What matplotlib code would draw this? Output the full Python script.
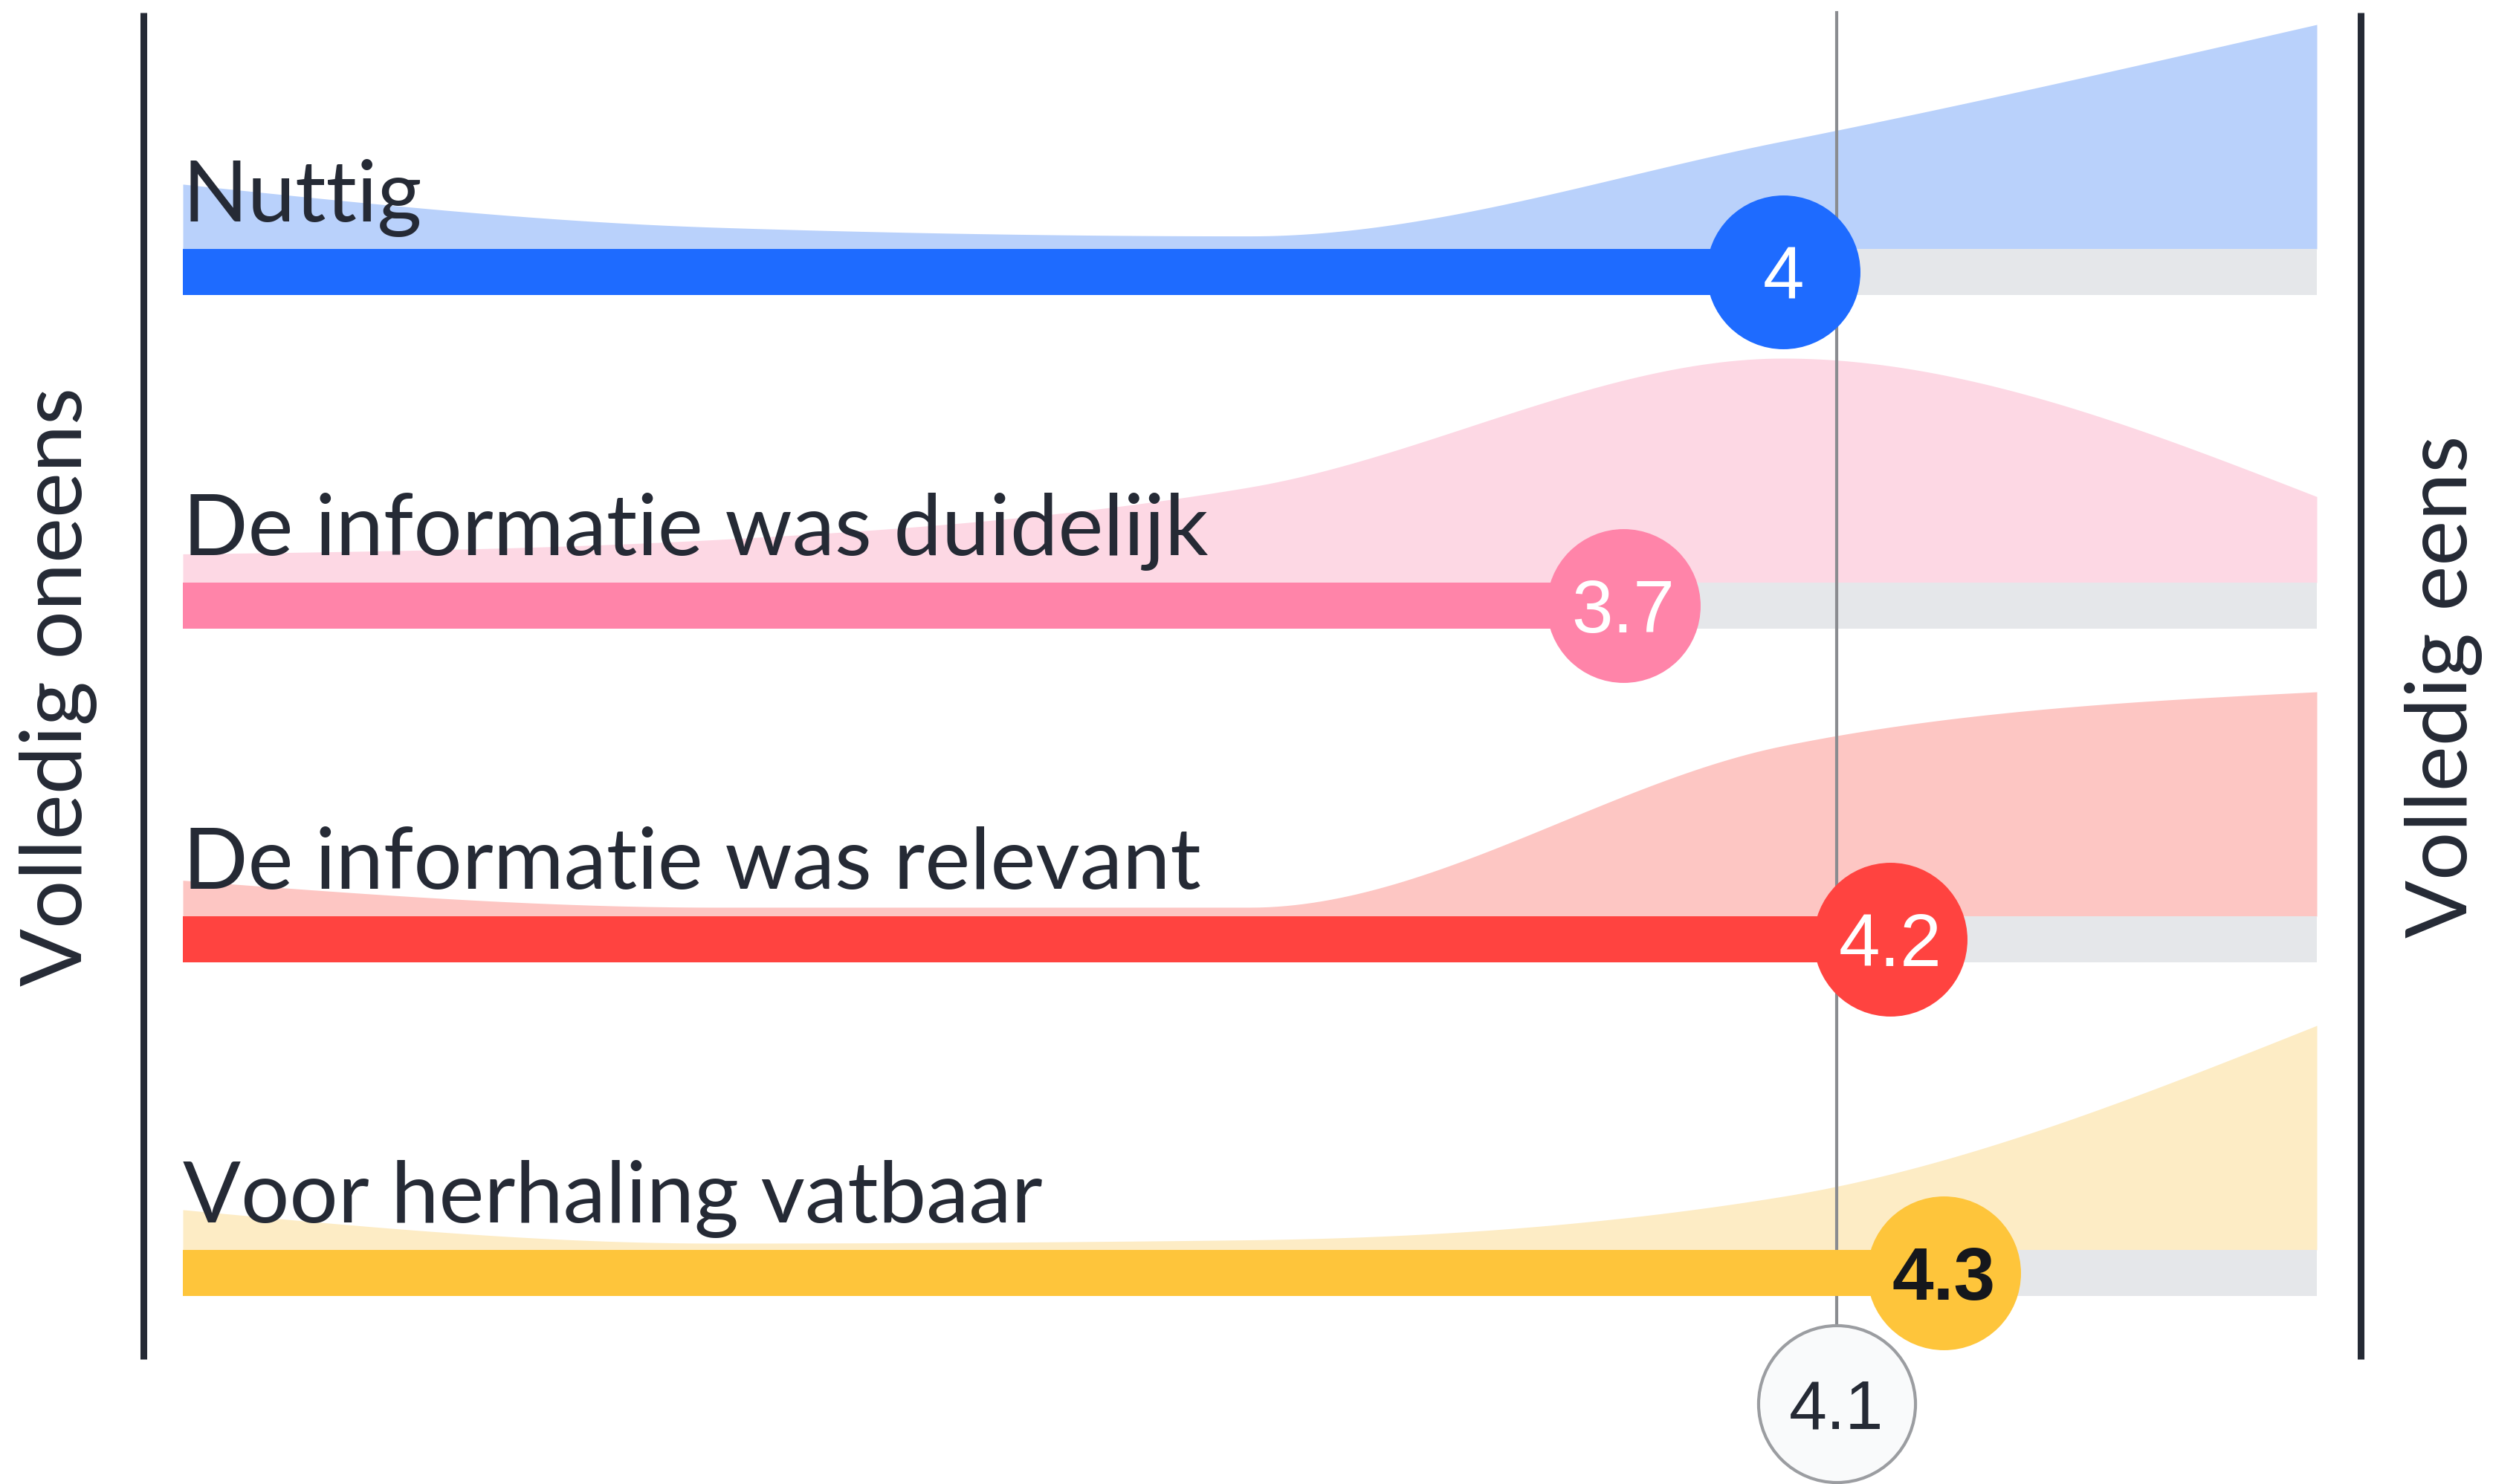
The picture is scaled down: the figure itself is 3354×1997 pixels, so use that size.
import numpy as np
import matplotlib.pyplot as plt

# data
labels = ["Nuttig", "De informatie was duidelijk", "De informatie was relevant", "Voor herhaling vatbaar"]
scores = [4.0, 3.7, 4.2, 4.3]
score_labels = ["4", "3.7", "4.2", "4.3"]
answers = [1, 2, 3, 4, 5]
dist_nuttig = [15, 5, 3, 25, 52]
dist_duidelijk = [6, 9, 20, 47, 18]
dist_relevant = [8, 2, 2, 38, 50]
dist_herhaling = [12, 2, 3, 16, 67]
average = 4.1
average_label = "4.1"
left_label = "Volledig oneens"
right_label = "Volledig eens"

bar_colors = ["#1e6bff", "#ff84a9", "#ff4340", "#fec53b"]
area_colors = ["#b9d1fb", "#fdd8e4", "#fdc6c3", "#fdecc5"]
value_colors = ["white", "white", "white", "#15171c"]
value_weights = ["normal", "normal", "normal", "bold"]
dark = "#252a35"
gray_bar = "#e5e7ea"


def monotone_curve(xs, ys, n=60):
    # monotone cubic (Steffen, as in d3 curveMonotoneX)
    xs = np.asarray(xs, float)
    ys = np.asarray(ys, float)
    h = np.diff(xs)
    s = np.diff(ys) / h
    m = np.zeros_like(ys)
    for k in range(1, len(xs) - 1):
        p = (s[k - 1] * h[k] + s[k] * h[k - 1]) / (h[k - 1] + h[k])
        m[k] = (np.sign(s[k - 1]) + np.sign(s[k])) * min(abs(s[k - 1]), abs(s[k]), 0.5 * abs(p))
    m[0] = (3 * s[0] - m[1]) / 2
    m[-1] = (3 * s[-1] - m[-2]) / 2
    out_x, out_y = [], []
    for k in range(len(xs) - 1):
        t = np.linspace(0, 1, n)
        h00 = 2 * t**3 - 3 * t**2 + 1
        h10 = t**3 - 2 * t**2 + t
        h01 = -2 * t**3 + 3 * t**2
        h11 = t**3 - t**2
        out_x.append(xs[k] + t * h[k])
        out_y.append(h00 * ys[k] + h10 * h[k] * m[k] + h01 * ys[k + 1] + h11 * h[k] * m[k + 1])
    return np.concatenate(out_x), np.concatenate(out_y)


fig = plt.figure(figsize=(33.54, 19.97), dpi=100)
ax = fig.add_axes([0, 0, 1, 1])
ax.axis("off")

# x in answer units, y in row units (row spacing 449 px)
px_per_unit = 717.75
x0 = 1 - 246 / px_per_unit
ax.set_xlim(x0, x0 + 3354 / px_per_unit)
ax.set_ylim((1997 - 366) / 449, -366 / 449)

bar_h = 62 / 449
area_max = 302 / 449
dists = [dist_nuttig, dist_duidelijk, dist_relevant, dist_herhaling]

for i, dist in enumerate(dists):
    top = i - bar_h / 2
    heights = np.array(dist, float) / max(dist) * area_max
    cx, cy = monotone_curve(answers, heights)
    ax.fill_between(cx, top, top - cy, color=area_colors[i], lw=0, zorder=1)
    ax.barh(i, answers[-1] - answers[0], left=answers[0], height=bar_h, color=gray_bar, zorder=2)
    ax.barh(i, scores[i] - answers[0], left=answers[0], height=bar_h, color=bar_colors[i], zorder=4)
    ax.scatter([scores[i]], [i], s=149**2, color=bar_colors[i], lw=0, zorder=5)
    ax.text(scores[i], i, score_labels[i], ha="center", va="center_baseline", fontsize=72,
            family="Liberation Sans", color=value_colors[i], fontweight=value_weights[i], zorder=6)
    ax.text(answers[0], i - 0.151, labels[i], ha="left", va="baseline", fontsize=83,
            family="Lato", color=dark, zorder=6)

# average line and marker
y_line_top = -349 / 449
y_avg = (1889 - 366) / 449
ax.plot([average, average], [y_line_top, y_avg], color="#8a8c90", lw=3, zorder=3)
ax.scatter([average], [y_avg], s=152**2, facecolor="#f9fafb", edgecolor="#9b9da1", lw=3, zorder=5)
ax.text(average, y_avg, average_label, ha="center", va="center_baseline", fontsize=66,
        family="Liberation Sans", color=dark, zorder=6)

# scale end lines
y_bottom = (1829 - 366) / 449
for xl in [x0 + 193 / px_per_unit, x0 + 3176 / px_per_unit]:
    ax.plot([xl, xl], [y_line_top, y_bottom], color=dark, lw=6.5, solid_capstyle="butt", zorder=3)

y_mid = (924 - 366) / 449
ax.text(x0 + 79 / px_per_unit, y_mid, left_label, rotation=90, ha="center", va="center",
        fontsize=83, family="Lato", color=dark)
ax.text(x0 + 3288 / px_per_unit, y_mid, right_label, rotation=90, ha="center", va="center",
        fontsize=83, family="Lato", color=dark)

fig.savefig("out.png", dpi=100, facecolor="white")
